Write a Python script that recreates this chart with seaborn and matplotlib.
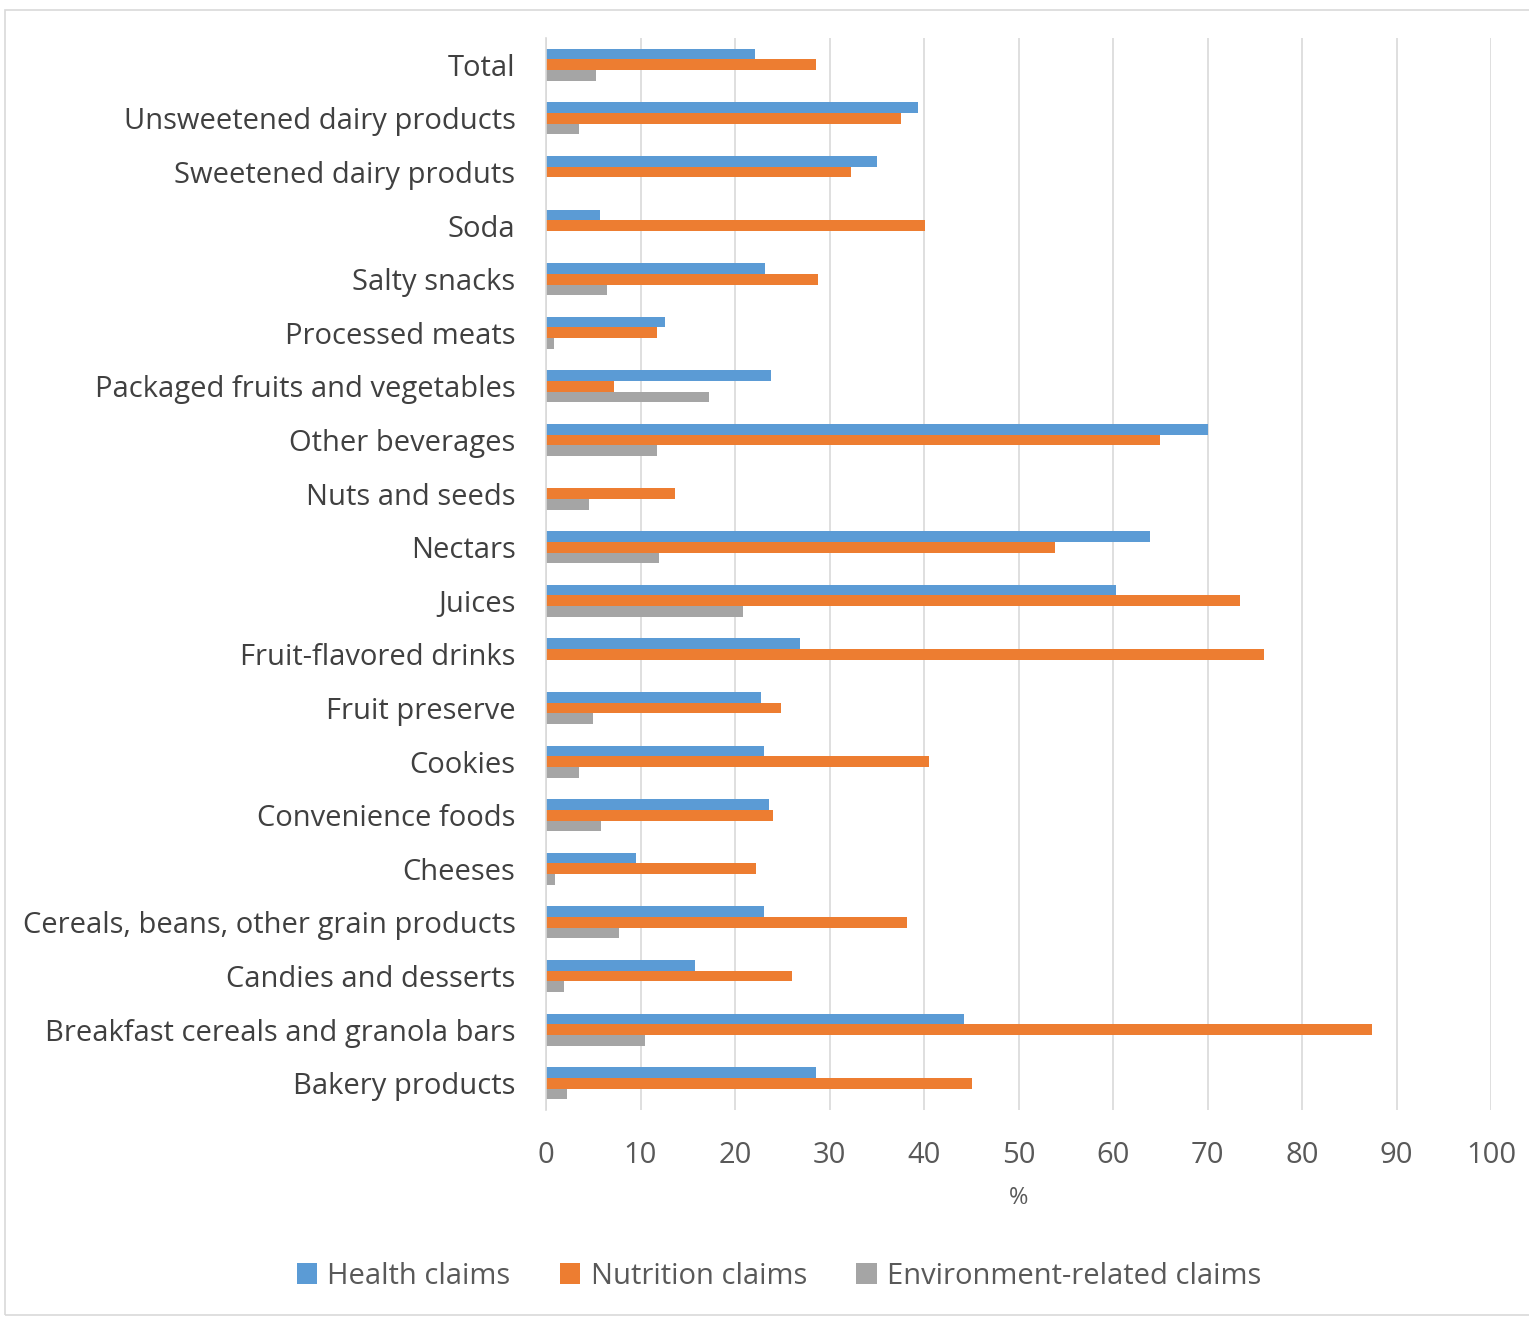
import matplotlib
matplotlib.use("Agg")
import matplotlib.pyplot as plt
import seaborn as sns
import pandas as pd
from matplotlib.patches import Rectangle

categories = ["Total", "Unsweetened dairy products", "Sweetened dairy produts", "Soda",
              "Salty snacks", "Processed meats", "Packaged fruits and vegetables",
              "Other beverages", "Nuts and seeds", "Nectars", "Juices",
              "Fruit-flavored drinks", "Fruit preserve", "Cookies", "Convenience foods",
              "Cheeses", "Cereals, beans, other grain products", "Candies and desserts",
              "Breakfast cereals and granola bars", "Bakery products"]
health = [22.1, 39.4, 35.0, 5.7, 23.2, 12.6, 23.8, 70.1, 0.0, 63.9, 60.3, 26.9,
          22.7, 23.1, 23.6, 9.5, 23.1, 15.8, 44.2, 28.6]
nutrition = [28.6, 37.6, 32.3, 40.1, 28.8, 11.7, 7.2, 65.0, 13.6, 53.9, 73.4, 76.0,
             24.9, 40.5, 24.0, 22.2, 38.2, 26.0, 87.4, 45.1]
environment = [5.3, 3.5, 0.0, 0.0, 6.5, 0.8, 17.3, 11.7, 4.6, 12.0, 20.8, 0.0,
               5.0, 3.5, 5.8, 1.0, 7.7, 1.9, 10.5, 2.2]
series = ["Health claims", "Nutrition claims", "Environment-related claims"]
colors = ["#5B9BD5", "#ED7D31", "#A5A5A5"]
xticks = list(range(0, 101, 10))

rows = []
for i, c in enumerate(categories):
    for s, vals in zip(series, [health, nutrition, environment]):
        rows.append({"category": c, "claim": s, "value": vals[i]})
df = pd.DataFrame(rows)

sns.set_theme(style="white")
plt.rcParams["font.family"] = ["Open Sans", "DejaVu Sans"]

fig = plt.figure(figsize=(15.29, 13.17), dpi=100)
ax = fig.add_axes([546/1529, 1 - 1110/1317, (1491-546)/1529, (1110-38)/1317])

sns.barplot(data=df, y="category", x="value", hue="claim", order=categories,
            hue_order=series, palette=colors, orient="h", width=0.6,
            saturation=1, ax=ax, legend=True, linewidth=0)

ax.set_xlim(0, 100)
ax.set_ylim(len(categories) - 0.5, -0.5)
ax.set_xticks(xticks)
ax.set_xticklabels([str(t) for t in xticks], fontsize=21, color="#595959")
ax.tick_params(axis="y", labelsize=21, labelcolor="#404040", length=0, pad=22)
ax.tick_params(axis="x", length=0, pad=22)
ax.set_ylabel("")
ax.set_xlabel("%", fontsize=17, color="#595959", labelpad=12)
ax.grid(axis="x", color="#D9D9D9", linewidth=1.2)
ax.set_axisbelow(True)
for sp in ["top", "right", "bottom"]:
    ax.spines[sp].set_visible(False)
ax.spines["left"].set_color("#D9D9D9")
ax.spines["left"].set_linewidth(1.2)

handles, labels = ax.get_legend_handles_labels()
ax.legend_.remove()
fig.legend(handles, labels, loc="center", bbox_to_anchor=(779/1529, 1 - 1276/1317),
           ncol=3, frameon=False, fontsize=21, handlelength=0.7, handleheight=0.7,
           handletextpad=0.35, columnspacing=1.7, labelcolor="#595959")

fig.patches.append(Rectangle((5/1529, 2/1317), 1530/1529, 1 - 12/1317,
                             transform=fig.transFigure, fill=False,
                             edgecolor="#D9D9D9", linewidth=1.2))

fig.savefig("out.png", dpi=100)
